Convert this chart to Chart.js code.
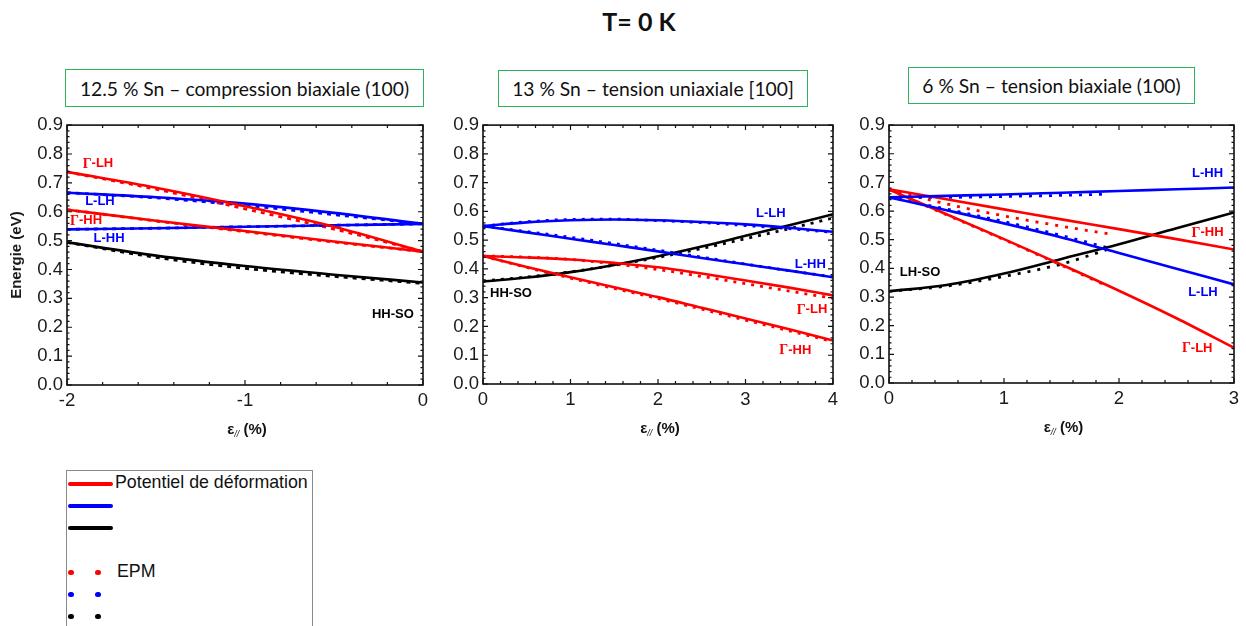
<!DOCTYPE html>
<html>
<head>
<meta charset="utf-8">
<script src="https://cdn.jsdelivr.net/npm/chart.js@4/dist/chart.umd.min.js"></script>
<style>
  html, body { margin:0; padding:0; background:#fff; }
  body { width:1246px; height:626px; position:relative; overflow:hidden; font-family:"Liberation Sans", Arial, sans-serif; }
  .cv { position:absolute; }
  #mainTitle { position:absolute; left:0; width:1246px; top:6px; text-align:center; font-family:Lato, "Open Sans", sans-serif; font-weight:bold; font-size:25px; color:#111; padding-left:32px; box-sizing:border-box; }
  .ptitle { position:absolute; border:1.5px solid #2fb35a; box-sizing:border-box; display:flex; align-items:center; justify-content:center; font-family:Lato, "Open Sans", sans-serif; font-size:19.3px; color:#111; white-space:nowrap; }
  #legend { position:absolute; left:66px; top:470px; width:247px; height:200px; border:1px solid #8a8a8a; box-sizing:border-box; }
  .lg-line { position:absolute; left:1px; width:45px; height:4px; border-radius:2px; }
  .lg-dot { position:absolute; width:6px; height:5px; border-radius:3px; }
  .lg-text { position:absolute; font-size:17.8px; color:#111; white-space:nowrap; }
</style>
</head>
<body>
<div id="mainTitle">T= 0 K</div>
<div class="ptitle" style="left:65px;top:69px;width:359px;height:38px;">12.5 % Sn – compression biaxiale (100)</div>
<div class="ptitle" style="left:498px;top:70px;width:310px;height:37px;">13 % Sn – tension uniaxiale [100]</div>
<div class="ptitle" style="left:908px;top:67px;width:287px;height:37px;">6 % Sn – tension biaxiale (100)</div>

<canvas id="c1" class="cv" style="left:0px;top:110px;" width="440" height="340"></canvas>
<canvas id="c2" class="cv" style="left:440px;top:110px;" width="410" height="340"></canvas>
<canvas id="c3" class="cv" style="left:850px;top:110px;" width="396" height="340"></canvas>

<div id="legend">
  <div class="lg-line" style="top:11px;background:#ff0000;"></div>
  <div class="lg-line" style="top:33px;background:#0000ff;"></div>
  <div class="lg-line" style="top:55px;background:#000000;"></div>
  <div class="lg-text" style="left:48px;top:1px;">Potentiel de déformation</div>
  <div class="lg-dot" style="left:1px;top:99px;background:#ff0000;"></div>
  <div class="lg-dot" style="left:28px;top:99px;background:#ff0000;"></div>
  <div class="lg-dot" style="left:1px;top:121px;background:#0000ff;"></div>
  <div class="lg-dot" style="left:28px;top:121px;background:#0000ff;"></div>
  <div class="lg-dot" style="left:1px;top:143px;background:#000000;"></div>
  <div class="lg-dot" style="left:28px;top:143px;background:#000000;"></div>
  <div class="lg-text" style="left:50px;top:90px;">EPM</div>
</div>

<script>
// ---------------- DATA ----------------
// Panel 1 : 12.5 % Sn – compression biaxiale (100)
const p1X = [-2, -1.5, -1, -0.5, 0];
const p1_GLH_dp  = [0.738, 0.683, 0.619, 0.548, 0.462];
const p1_LLH_dp  = [0.666, 0.650, 0.628, 0.596, 0.558];
const p1_GHH_dp  = [0.607, 0.569, 0.533, 0.497, 0.462];
const p1_LHH_dp  = [0.539, 0.543, 0.548, 0.553, 0.558];
const p1_HHSO_dp = [0.494, 0.448, 0.412, 0.382, 0.355];
const p1_GLH_epm  = [0.738, 0.678, 0.610, 0.540, 0.462];
const p1_LLH_epm  = [0.666, 0.648, 0.622, 0.590, 0.558];
const p1_GHH_epm  = [0.607, 0.568, 0.531, 0.495, 0.462];
const p1_LHH_epm  = [0.539, 0.543, 0.548, 0.553, 0.558];
const p1_HHSO_epm = [0.494, 0.442, 0.404, 0.376, 0.352];

// Panel 2 : 13 % Sn – tension uniaxiale [100]
const p2X = [0, 0.5, 1, 1.5, 2, 2.5, 3, 3.5, 4];
const p2_LLH_dp  = [0.549, 0.562, 0.569, 0.572, 0.569, 0.563, 0.555, 0.543, 0.529];
const p2_LHH_dp  = [0.549, 0.527, 0.505, 0.483, 0.461, 0.438, 0.416, 0.394, 0.371];
const p2_GLH_dp  = [0.445, 0.440, 0.433, 0.421, 0.406, 0.384, 0.360, 0.335, 0.308];
const p2_GHH_dp  = [0.445, 0.407, 0.371, 0.336, 0.302, 0.265, 0.228, 0.190, 0.151];
const p2_HHSO_dp = [0.356, 0.370, 0.389, 0.414, 0.444, 0.478, 0.515, 0.552, 0.590];
const p2_LLH_epm  = [0.549, 0.564, 0.572, 0.573, 0.568, 0.561, 0.551, 0.540, 0.527];
const p2_LHH_epm  = [0.549, 0.530, 0.510, 0.488, 0.465, 0.441, 0.417, 0.394, 0.372];
const p2_GLH_epm  = [0.445, 0.441, 0.433, 0.417, 0.398, 0.374, 0.349, 0.323, 0.298];
const p2_GHH_epm  = [0.445, 0.405, 0.368, 0.332, 0.297, 0.260, 0.222, 0.185, 0.147];
const p2_HHSO_epm = [0.358, 0.372, 0.390, 0.413, 0.440, 0.471, 0.505, 0.540, 0.577];

// Panel 3 : 6 % Sn – tension biaxiale (100)
const p3X = [0, 0.5, 1, 1.5, 2, 2.5, 3];
const p3_LHH_dp  = [0.648, 0.653, 0.658, 0.664, 0.670, 0.676, 0.682];
const p3_GHH_dp  = [0.676, 0.641, 0.606, 0.571, 0.537, 0.502, 0.466];
const p3_LLH_dp  = [0.648, 0.603, 0.557, 0.508, 0.454, 0.399, 0.344];
const p3_GLH_dp  = [0.675, 0.589, 0.502, 0.413, 0.322, 0.226, 0.123];
const p3_LHSO_dp = [0.320, 0.342, 0.382, 0.433, 0.484, 0.540, 0.595];
const p3Xepm = [0, 0.5, 1, 1.5, 1.9];
const p3_LHH_epm  = [0.648, 0.648, 0.651, 0.655, 0.659];
const p3_GHH_epm  = [0.675, 0.625, 0.583, 0.547, 0.521];
const p3_LLH_epm  = [0.648, 0.607, 0.563, 0.515, 0.472];
const p3_GLH_epm  = [0.675, 0.587, 0.500, 0.411, 0.338];
const p3_LHSO_epm = [0.320, 0.338, 0.372, 0.415, 0.466];

// Axis ranges / ticks
const yTicks = [0, 0.1, 0.2, 0.3, 0.4, 0.5, 0.6, 0.7, 0.8, 0.9];
const p1XTicks = [-2, -1, 0];
const p2XTicks = [0, 1, 2, 3, 4];
const p3XTicks = [0, 1, 2, 3];

// Curve labels (text, anchor in data units)
const p1Labels = [
  ['Γ-LH', -1.826, 0.767, 'red'], ['L-LH', -1.815, 0.634, 'blue'],
  ['Γ-HH', -1.893, 0.569, 'red'], ['L-HH', -1.764, 0.508, 'blue'],
  ['HH-SO', -0.169, 0.245, 'black']
];
const p2Labels = [
  ['L-LH', 3.29, 0.593, 'blue'], ['L-HH', 3.74, 0.417, 'blue'],
  ['HH-SO', 0.32, 0.314, 'black'], ['Γ-LH', 3.76, 0.259, 'red'],
  ['Γ-HH', 3.57, 0.117, 'red']
];
const p3Labels = [
  ['L-HH', 2.77, 0.730, 'blue'], ['Γ-HH', 2.77, 0.525, 'red'],
  ['L-LH', 2.73, 0.316, 'blue'], ['Γ-LH', 2.68, 0.122, 'red'],
  ['LH-SO', 0.27, 0.386, 'black']
];

// ---------------- STYLE ----------------
const COL = { red:'#ff0000', blue:'#0000ff', black:'#000000' };
const SANS = '"Liberation Sans", Arial, sans-serif';

function pts(xs, ys) { return xs.map((x, i) => ({ x: x, y: ys[i] })); }
function solid(xs, ys, c) {
  return { data: pts(xs, ys), borderColor: COL[c], borderWidth: 2.6, pointRadius: 0, cubicInterpolationMode: 'monotone', fill: false, order: 1 };
}
function dotted(xs, ys, c, dash) {
  return { data: pts(xs, ys), borderColor: COL[c], borderWidth: 2.8, pointRadius: 0, cubicInterpolationMode: 'monotone', fill: false, borderDash: dash, order: 2 };
}

const framePlugin = {
  id: 'frame',
  afterDatasetsDraw(chart) {
    const { ctx, chartArea: a, scales: { x, y } } = chart;
    ctx.save();
    ctx.strokeStyle = '#111';
    ctx.lineWidth = 1.6;
    ctx.strokeRect(a.left, a.top, a.right - a.left, a.bottom - a.top);
    ctx.lineWidth = 1.2;
    ctx.beginPath();
    const nx = Math.round((x.max - x.min) / 0.2);
    for (let i = 0; i <= nx; i++) {
      const v = x.min + i * 0.2;
      const px = x.getPixelForValue(v);
      const major = Math.abs(v - Math.round(v)) < 1e-6;
      const L = major ? 5 : 3;
      ctx.moveTo(px, a.bottom); ctx.lineTo(px, a.bottom - L);
      ctx.moveTo(px, a.top); ctx.lineTo(px, a.top + L);
    }
    const ny = Math.round((y.max - y.min) / 0.02);
    for (let i = 0; i <= ny; i++) {
      const v = y.min + i * 0.02;
      const py = y.getPixelForValue(v);
      const major = i % 5 === 0;
      const L = major ? 5 : 2.5;
      ctx.moveTo(a.left, py); ctx.lineTo(a.left + L, py);
      ctx.moveTo(a.right, py); ctx.lineTo(a.right - L, py);
    }
    ctx.stroke();
    ctx.restore();
  }
};

const labelPlugin = {
  id: 'curveLabels',
  afterDatasetsDraw(chart, args, opts) {
    const { ctx, scales: { x, y } } = chart;
    ctx.save();
    ctx.textBaseline = 'middle';
    ctx.textAlign = 'left';
    (opts.items || []).forEach(([txt, vx, vy, c]) => {
      const px = x.getPixelForValue(vx), py = y.getPixelForValue(vy);
      let first = '', rest = txt;
      if (txt[0] === 'Γ') { first = 'Γ'; rest = txt.slice(1); }
      const fSerif = 'bold 14px "Liberation Serif", "Times New Roman", serif';
      const fSans = 'bold 13px ' + SANS;
      ctx.font = fSerif; const w1 = first ? ctx.measureText(first).width : 0;
      ctx.font = fSans; const w2 = ctx.measureText(rest).width;
      let sx = px - (w1 + w2) / 2;
      ctx.fillStyle = COL[c];
      if (first) { ctx.font = fSerif; ctx.fillText(first, sx, py + 0.5); sx += w1; }
      ctx.font = fSans; ctx.fillText(rest, sx, py);
    });
    ctx.restore();
  }
};

const xTitlePlugin = {
  id: 'xTitle',
  afterDraw(chart) {
    const { ctx, chartArea: a } = chart;
    const cx = (a.left + a.right) / 2 + 2;
    const cy = a.bottom + 44;
    const fBig = 'bold 15px ' + SANS;
    const fSub = 'italic 9px ' + SANS;
    ctx.save();
    ctx.textBaseline = 'alphabetic';
    ctx.textAlign = 'left';
    ctx.fillStyle = '#111';
    ctx.font = fBig; const w1 = ctx.measureText('ε').width;
    ctx.font = fSub; const w2 = ctx.measureText('//').width;
    ctx.font = fBig; const w3 = ctx.measureText(' (%)').width;
    let sx = cx - (w1 + w2 + w3) / 2;
    const base = cy + 5;
    ctx.font = fBig; ctx.fillText('ε', sx, base); sx += w1;
    ctx.font = fSub; ctx.fillText('//', sx, base + 3); sx += w2;
    ctx.font = fBig; ctx.fillText(' (%)', sx, base);
    ctx.restore();
  }
};

function makePanel(id, datasets, xMin, xMax, xTicks, labels, geom, showYTitle) {
  new Chart(document.getElementById(id), {
    type: 'line',
    data: { datasets: datasets },
    options: {
      responsive: false,
      animation: false,
      events: [],
      layout: { padding: { left: 0, right: geom.padRight, top: geom.padTop, bottom: 0 } },
      plugins: {
        legend: { display: false },
        tooltip: { enabled: false },
        curveLabels: { items: labels }
      },
      scales: {
        x: {
          type: 'linear', min: xMin, max: xMax,
          grid: { display: false, drawTicks: false },
          border: { display: false },
          afterBuildTicks: (s) => { s.ticks = xTicks.map(v => ({ value: v })); },
          ticks: { padding: 5, color: '#1a1a1a', font: { family: SANS, size: 18.5 }, maxRotation: 0,
                   callback: (v) => String(v) },
          afterFit: (s) => { s.height = geom.xH; }
        },
        y: {
          type: 'linear', min: 0, max: 0.9,
          grid: { display: false, drawTicks: false },
          border: { display: false },
          afterBuildTicks: (s) => { s.ticks = yTicks.map(v => ({ value: v })); },
          ticks: { padding: 4, color: '#1a1a1a', font: { family: SANS, size: 18.5 },
                   callback: (v) => Number(v).toFixed(1) },
          title: { display: showYTitle, text: 'Energie (eV)', color: '#1a1a1a',
                   font: { family: SANS, size: 15, weight: 'bold' }, padding: { top: 8, bottom: 0 } },
          afterFit: (s) => { s.width = geom.yW; }
        }
      }
    },
    plugins: [framePlugin, labelPlugin, xTitlePlugin]
  });
}

// Panel 1
makePanel('c1', [
  solid(p1X, p1_GLH_dp, 'red'), solid(p1X, p1_LLH_dp, 'blue'), solid(p1X, p1_GHH_dp, 'red'),
  solid(p1X, p1_LHH_dp, 'blue'), solid(p1X, p1_HHSO_dp, 'black'),
  dotted(p1X, p1_GLH_epm, 'red', [4, 5]), dotted(p1X, p1_LLH_epm, 'blue', [4, 5]),
  dotted(p1X, p1_GHH_epm, 'red', [4, 5]), dotted(p1X, p1_LHH_epm, 'blue', [4, 5]),
  dotted(p1X, p1_HHSO_epm, 'black', [4, 5])
], -2, 0, p1XTicks, p1Labels, { padRight: 17, padTop: 11, xH: 65, yW: 67 }, true);

// Panel 2
makePanel('c2', [
  solid(p2X, p2_LLH_dp, 'blue'), solid(p2X, p2_LHH_dp, 'blue'), solid(p2X, p2_GLH_dp, 'red'),
  solid(p2X, p2_GHH_dp, 'red'), solid(p2X, p2_HHSO_dp, 'black'),
  dotted(p2X, p2_LLH_epm, 'blue', [3, 6]), dotted(p2X, p2_LHH_epm, 'blue', [3, 6]),
  dotted(p2X, p2_GLH_epm, 'red', [3, 6]), dotted(p2X, p2_GHH_epm, 'red', [3, 6]),
  dotted(p2X, p2_HHSO_epm, 'black', [3, 6])
], 0, 4, p2XTicks, p2Labels, { padRight: 17, padTop: 13, xH: 66, yW: 43 }, false);

// Panel 3
makePanel('c3', [
  solid(p3X, p3_LHH_dp, 'blue'), solid(p3X, p3_GHH_dp, 'red'), solid(p3X, p3_LLH_dp, 'blue'),
  solid(p3X, p3_GLH_dp, 'red'), solid(p3X, p3_LHSO_dp, 'black'),
  dotted(p3Xepm, p3_LHH_epm, 'blue', [3, 7]), dotted(p3Xepm, p3_GHH_epm, 'red', [3, 7]),
  dotted(p3Xepm, p3_LLH_epm, 'blue', [3, 7]), dotted(p3Xepm, p3_GLH_epm, 'red', [3, 7]),
  dotted(p3Xepm, p3_LHSO_epm, 'black', [3, 7])
], 0, 3, p3XTicks, p3Labels, { padRight: 12, padTop: 14, xH: 67, yW: 39 }, false);
</script>
</body>
</html>
